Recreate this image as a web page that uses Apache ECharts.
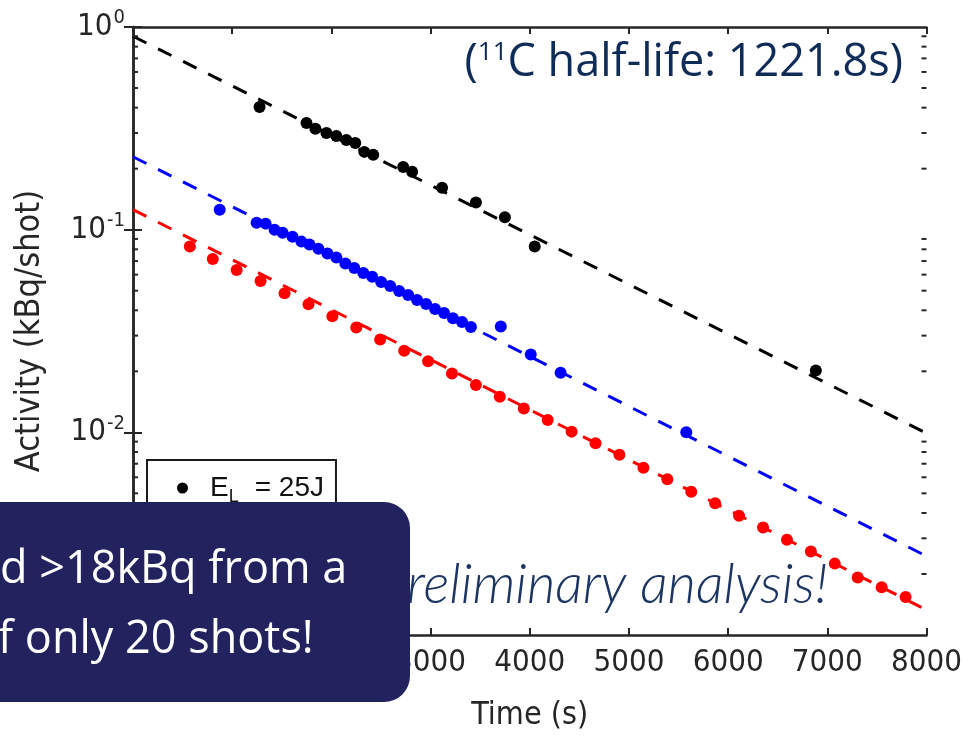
<!DOCTYPE html>
<html>
<head>
<meta charset="utf-8">
<script src="https://cdn.jsdelivr.net/npm/echarts@6/dist/echarts.min.js"></script>
<style>
  html, body { margin: 0; padding: 0; background: #fff; }
  #chart { width: 965px; height: 737px; }
</style>
</head>
<body>
<div id="chart"></div>
<script>
// Measured activity per shot (kBq/shot) against time since irradiation (s)
const timesBlack = [1276, 1749, 1839, 1950, 2050, 2151, 2241, 2332, 2422, 2724, 2814, 3116, 3457, 3749, 4050, 6884];
const activityBlack = [0.403, 0.336, 0.315, 0.300, 0.290, 0.277, 0.268, 0.242, 0.234, 0.204, 0.193, 0.161, 0.136, 0.115, 0.0825, 0.0202];

const timesBlue = [874, 1246, 1337, 1427, 1508, 1608, 1698, 1779, 1869, 1960, 2050, 2141, 2231, 2322, 2412, 2502, 2593, 2683, 2774, 2864, 2955, 3045, 3136, 3226, 3317, 3407, 3708, 4010, 4311, 5578];
const activityBlue = [0.1254, 0.1083, 0.1071, 0.1000, 0.0966, 0.0923, 0.0873, 0.0844, 0.0806, 0.0762, 0.0728, 0.0680, 0.0647, 0.0611, 0.0585, 0.0552, 0.0527, 0.0498, 0.0476, 0.0450, 0.0430, 0.0406, 0.0388, 0.0366, 0.0350, 0.0331, 0.0333, 0.0242, 0.0197, 0.0100];

const timesRed = [573, 804, 1045, 1286, 1528, 1769, 2010, 2251, 2492, 2734, 2975, 3216, 3457, 3698, 3940, 4181, 4422, 4663, 4904, 5146, 5387, 5628, 5869, 6110, 6352, 6593, 6834, 7075, 7306, 7548, 7789];
const activityRed = [0.0827, 0.0717, 0.0632, 0.0558, 0.0486, 0.0429, 0.0374, 0.0329, 0.0287, 0.0253, 0.0224, 0.0195, 0.0171, 0.0150, 0.0131, 0.0115, 0.01008, 0.00883, 0.00775, 0.00669, 0.00587, 0.00509, 0.00447, 0.00388, 0.00339, 0.00295, 0.00258, 0.00225, 0.00192, 0.00172, 0.00154];

// Exponential decay fits (straight lines on the log axis), given by their end points
const fitTimes = [0, 8000];
const fitBlack = [0.90, 0.0099];
const fitBlue = [0.229, 0.00245];
const fitRed = [0.1256, 0.00133];

// Axis ranges and ticks
const xTicks = [0, 1000, 2000, 3000, 4000, 5000, 6000, 7000, 8000];
const yDecades = [0.001, 0.01, 0.1, 1];

const legendLabel = 'E_L = 25J';
const stampText = 'Preliminary analysis!';
const boxLines = ['d >18kBq from a', 'f only 20 shots!'];

const AXIS_FONT = '"DejaVu Sans Condensed", "DejaVu Sans", sans-serif';
const INK = '#262626';

function pairs(xs, ys) { return xs.map((x, i) => [x, ys[i]]); }

// minor tick positions 2..9 within every decade of the y range
const minorTickValues = [];
for (let d = 0; d < yDecades.length - 1; d++) {
  for (let k = 2; k <= 9; k++) minorTickValues.push([0, yDecades[d] * k]);
}

const chart = echarts.init(document.getElementById('chart'), null, { renderer: 'canvas' });

const axisLineStyle = { show: true, lineStyle: { color: INK, width: 2.5 } };
const majorTick = { show: true, inside: true, length: 7, lineStyle: { color: INK, width: 2 } };

const option = {
  backgroundColor: '#ffffff',
  animation: false,
  grid: { left: 133, right: 36, top: 27, bottom: 100, containLabel: false },
  title: {
    text: '{p|(}{s|11}{p|C half-life: 1221.8s)}',
    right: 57,
    top: 35,
    textStyle: {
      fontWeight: 'normal',
      rich: {
        p: { fontFamily: '"Open Sans", sans-serif', fontSize: 45, fontWeight: 'normal', color: '#0f2b57' },
        s: { fontFamily: '"Open Sans", sans-serif', fontSize: 26, fontWeight: 'normal', color: '#0f2b57', verticalAlign: 'top', padding: [0, 0, 20, 0] }
      }
    }
  },
  legend: {
    data: [legendLabel],
    left: 147,
    top: 460,
    orient: 'vertical',
    backgroundColor: '#ffffff',
    borderColor: '#1a1a1a',
    borderWidth: 2,
    borderRadius: 0,
    padding: [14, 12, 40, 30],
    itemWidth: 11,
    itemHeight: 11,
    itemGap: 14,
    icon: 'circle',
    formatter: function () { return '{e|E}{u|L}{t|= 25J}'; },
    textStyle: {
      rich: {
        e: { fontFamily: '"Liberation Sans", Arial, sans-serif', fontSize: 28, color: '#111', padding: [0, 0, 0, 17] },
        t: { fontFamily: '"Liberation Sans", Arial, sans-serif', fontSize: 28, color: '#111', padding: [0, 0, 0, 16] },
        u: { fontFamily: '"Liberation Sans", Arial, sans-serif', fontSize: 18, color: '#111', verticalAlign: 'bottom', padding: [18, 0, 0, 0] }
      }
    }
  },
  xAxis: [
    {
      type: 'value', min: xTicks[0], max: xTicks[xTicks.length - 1], interval: 1000,
      name: 'Time (s)', nameLocation: 'middle', nameGap: 65,
      nameTextStyle: { fontFamily: AXIS_FONT, fontSize: 32, color: INK },
      axisLine: axisLineStyle, axisTick: majorTick, splitLine: { show: false },
      axisLabel: { fontFamily: AXIS_FONT, fontSize: 31, color: INK, margin: 12, formatter: function (v) { return String(v); } }
    },
    {
      type: 'value', position: 'top', min: xTicks[0], max: xTicks[xTicks.length - 1], interval: 1000,
      axisLine: axisLineStyle, axisTick: majorTick, splitLine: { show: false },
      axisLabel: { show: false }
    }
  ],
  yAxis: [
    {
      type: 'log', logBase: 10, min: yDecades[0], max: yDecades[yDecades.length - 1],
      name: 'Activity (kBq/shot)', nameLocation: 'middle', nameGap: 86,
      nameTextStyle: { fontFamily: AXIS_FONT, fontSize: 34, color: INK },
      axisLine: axisLineStyle, axisTick: { show: true, inside: true, length: 9, lineStyle: { color: INK, width: 2 } },
      splitLine: { show: false },
      axisLabel: {
        margin: 8,
        formatter: function (v) {
          const e = Math.round(Math.log10(v));
          return '{b|10}{e|' + e + '}';
        },
        rich: {
          b: { fontFamily: AXIS_FONT, fontSize: 31, color: INK },
          e: { fontFamily: AXIS_FONT, fontSize: 20, color: INK, verticalAlign: 'top', padding: [0, 0, 18, 1] }
        }
      }
    },
    {
      type: 'log', logBase: 10, position: 'right', min: yDecades[0], max: yDecades[yDecades.length - 1],
      axisLine: axisLineStyle, axisTick: { show: true, inside: true, length: 9, lineStyle: { color: INK, width: 2 } },
      splitLine: { show: false }, axisLabel: { show: false }
    }
  ],
  series: [
    {
      name: legendLabel, type: 'scatter', symbol: 'circle', symbolSize: 12,
      itemStyle: { color: '#000000', opacity: 1 }, data: pairs(timesBlack, activityBlack), z: 3
    },
    {
      name: 'blue shots', type: 'scatter', symbol: 'circle', symbolSize: 12,
      itemStyle: { color: '#0000ff', opacity: 1 }, data: pairs(timesBlue, activityBlue), z: 3
    },
    {
      name: 'red shots', type: 'scatter', symbol: 'circle', symbolSize: 12,
      itemStyle: { color: '#ff0000', opacity: 1 }, data: pairs(timesRed, activityRed), z: 3
    },
    {
      name: 'black fit', type: 'line', symbol: 'none', data: pairs(fitTimes, fitBlack),
      lineStyle: { color: '#000000', width: 3, type: [15, 13] }, z: 4, silent: true
    },
    {
      name: 'blue fit', type: 'line', symbol: 'none', data: pairs(fitTimes, fitBlue),
      lineStyle: { color: '#0000ff', width: 3, type: [15, 13] }, z: 4, silent: true
    },
    {
      name: 'red fit', type: 'line', symbol: 'none', data: pairs(fitTimes, fitRed),
      lineStyle: { color: '#ff0000', width: 3, type: [15, 13] }, z: 4, silent: true
    },
    {
      // minor log ticks on the left and right frame edges
      name: 'minor ticks', type: 'custom', silent: true, z: 5,
      data: minorTickValues,
      renderItem: function (params, api) {
        const v = api.value(1);
        const l = api.coord([xTicks[0], v]);
        const r = api.coord([xTicks[xTicks.length - 1], v]);
        const style = { stroke: INK, lineWidth: 2 };
        return {
          type: 'group',
          children: [
            { type: 'line', shape: { x1: l[0], y1: l[1], x2: l[0] + 5, y2: l[1] }, style: style },
            { type: 'line', shape: { x1: r[0], y1: r[1], x2: r[0] - 5, y2: r[1] }, style: style }
          ]
        };
      }
    }
  ],
  graphic: [
    {
      type: 'text', zlevel: 1, z: 50, right: 137, top: 558,
      style: {
        text: stampText,
        font: 'italic 300 55px Lato, "Open Sans", sans-serif',
        fill: '#1c3563'
      }
    },
    {
      type: 'group', zlevel: 2, z: 100, left: -30, top: 502,
      children: [
        {
          type: 'rect', zlevel: 2, z: 100, shape: { x: 0, y: 0, width: 440, height: 200, r: 26 },
          style: { fill: '#22235e' }
        },
        {
          type: 'text', zlevel: 2, z: 101, x: 30, y: 46,
          style: { text: boxLines[0], font: '45px "Open Sans", sans-serif', fill: '#ffffff' }
        },
        {
          type: 'text', zlevel: 2, z: 101, x: 28, y: 116,
          style: { text: boxLines[1], font: '45px "Open Sans", sans-serif', fill: '#ffffff' }
        }
      ]
    }
  ]
};

chart.setOption(option);
</script>
</body>
</html>
